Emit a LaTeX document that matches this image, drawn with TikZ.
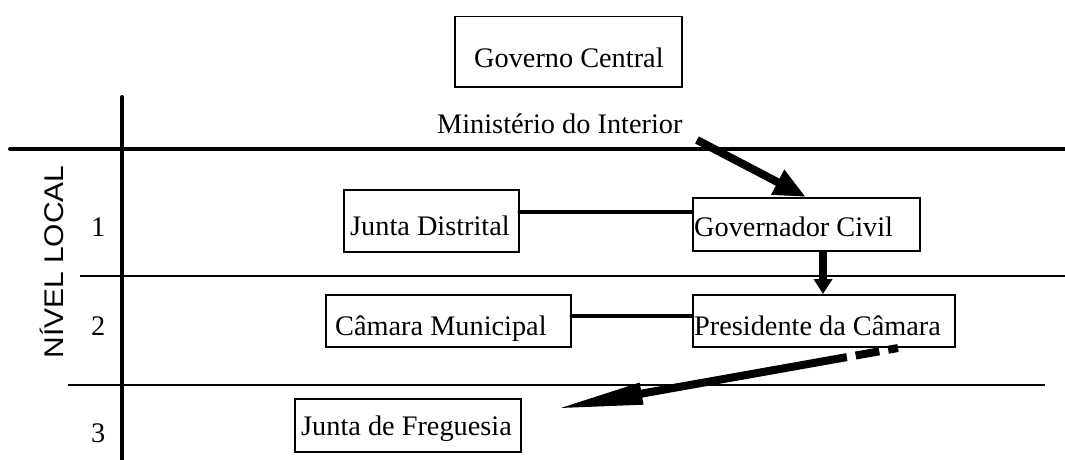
\documentclass[tikz,border=0pt]{standalone}
\usepackage{fontspec}
\setmainfont{Liberation Serif}
\newfontfamily\arialfont{Liberation Sans}
\usetikzlibrary{arrows.meta}
\begin{document}
\begin{tikzpicture}[x=1pt,y=-1pt,
  txt/.style={inner sep=0pt,anchor=base west,font=\fontsize{28.3}{30}\selectfont},
  boxn/.style={draw,line width=1.5pt,inner sep=0pt,anchor=north west},
  thickline/.style={line width=4pt,line cap=round},
  thinline/.style={line width=1.5pt},
  bigarrow/.style={line width=8pt}]
\useasboundingbox (0,0) rectangle (1065,460);
% frame lines
\coordinate (vtop) at (122,97);
\coordinate (vbot) at (122,462);
\coordinate (hl) at (10,149);
\coordinate (hr) at (1067,149);
\coordinate (t1l) at (80,276);
\coordinate (t1r) at (1065,276);
\coordinate (t2l) at (68,385);
\coordinate (t2r) at (1045,385);
\draw[thickline] (vtop) -- (vbot);
\draw[thickline] (hl) -- (hr);
\draw[thinline] (t1l) -- (t1r);
\draw[thinline] (t2l) -- (t2r);
% boxes
\node[boxn,minimum width=227pt,minimum height=70pt] (gcen) at (454,16) {};
\node[boxn,minimum width=175pt,minimum height=62pt] (jd) at (343,189) {};
\node[boxn,minimum width=227pt,minimum height=53pt] (gc) at (692,197) {};
\node[boxn,minimum width=245pt,minimum height=52pt] (cm) at (325,294) {};
\node[boxn,minimum width=262pt,minimum height=52pt] (pc) at (692,294) {};
\node[boxn,minimum width=226pt,minimum height=53pt] (jf) at (294,398) {};
% texts
\node[txt] (tgcen) at (474,67) {Governo Central};
\node[txt] (tmin) at (437,133) {Ministério do Interior};
\node[txt] (tjd) at (350,235) {Junta Distrital};
\node[txt] (tgc) at (694,236) {Governador Civil};
\node[txt] (tcm) at (335,335) {Câmara Municipal};
\node[txt] (tpc) at (694,335) {Presidente da Câmara};
\node[txt] (tjf) at (301,435) {Junta de Freguesia};
\node[txt] (n1) at (91,236) {1};
\node[txt] (n2) at (91,335) {2};
\node[txt] (n3) at (91,442) {3};
\node[inner sep=0pt,rotate=90,font=\arialfont\fontsize{27}{30}\selectfont] (nivel) at (52,262) {\scalebox{1.11}[1]{NÍVEL LOCAL}};
% connectors
\coordinate (y1) at (0,212);
\coordinate (y2) at (0,316);
\draw[line width=4pt,line cap=round] (jd.east|-y1) -- (gc.west|-y1);
\draw[line width=4pt,line cap=round] (cm.east|-y2) -- (pc.west|-y2);
\coordinate (a1s) at (697,140);
\coordinate (a1e) at (806,197);
\draw[bigarrow,-{Triangle[length=32pt,width=26pt]}] (a1s) -- (a1e);
\coordinate (a2x) at (823,0);
\draw[bigarrow,-{Triangle[length=15pt,width=18pt]}] (gc.south-|a2x) -- (pc.north-|a2x);
\coordinate (a3s) at (898,348);
\coordinate (a3e) at (555,409);
\draw[bigarrow,dash pattern=on 10pt off 9pt on 24pt off 9pt on 500pt,-{Triangle[length=88pt,width=20pt]}] (a3s) -- (a3e);
\end{tikzpicture}
\end{document}
